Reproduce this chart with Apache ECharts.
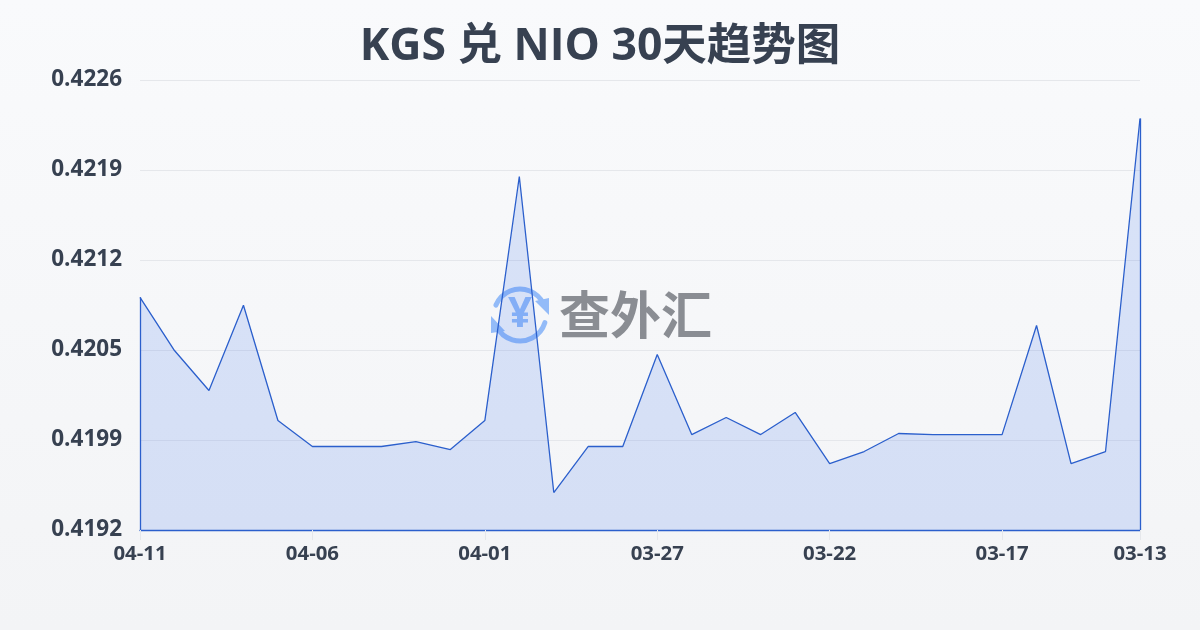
<!DOCTYPE html>
<html><head><meta charset="utf-8">
<style>html,body{margin:0;padding:0;background:#f9fafb}#c{width:1200px;height:630px}</style>
<script src="https://cdn.jsdelivr.net/npm/echarts@6/dist/echarts.min.js"></script>
</head><body><div id="c"></div>
<script>
const titleText = 'KGS 兑 NIO 30天趋势图';
const categories = ['04-11','04-10','04-09','04-08','04-07','04-06','04-05','04-04','04-03','04-02','04-01','03-31','03-30','03-29','03-28','03-27','03-26','03-25','03-24','03-23','03-22','03-21','03-20','03-19','03-18','03-17','03-16','03-15','03-14','03-13'];
const rates = [0.420958,0.420556,0.420254,0.420898,0.420027,0.419831,0.419831,0.419831,0.419868,0.419808,0.420027,0.421871,0.419483,0.419831,0.419831,0.420526,0.419921,0.42005,0.419921,0.420088,0.419702,0.419793,0.419929,0.419921,0.419921,0.419921,0.420745,0.419702,0.419793,0.422309];
const yTicks = [0.4192,0.41988,0.42056,0.42124,0.42192,0.4226];
const yTickLabels = ['0.4192','0.4199','0.4205','0.4212','0.4219','0.4226'];
const yMin = 0.4192, yMax = 0.4226;
const xLabelIdx = [0,5,10,15,20,25,29];
const font = '"Open Sans","Noto Sans CJK SC",sans-serif';
const line = '#2b5fcc', ink = '#374151', wm = '#93bbf8';
const chart = echarts.init(document.getElementById('c'));
const last = categories.length-1;
chart.setOption({
  animation:false,
  backgroundColor:new echarts.graphic.LinearGradient(0,0,0,1,[{offset:0,color:'#f9fafc'},{offset:1,color:'#f3f4f6'}]),
  title:{text:titleText,left:'center',top:20,textStyle:{fontFamily:font,fontSize:44.5,fontWeight:'bold',color:ink}},
  grid:{left:140,right:60,top:80,bottom:100},
  graphic:[
    {type:'arc',z:0,shape:{cx:520,cy:315,r:26,startAngle:-2.75,endAngle:-0.45},style:{stroke:wm,lineWidth:5,fill:null,lineCap:'round'}},
    {type:'arc',z:0,shape:{cx:520,cy:315,r:26,startAngle:0.3,endAngle:2.7},style:{stroke:wm,lineWidth:5,fill:null,lineCap:'round'}},
    {type:'polygon',z:0,shape:{points:[[535,301],[549,315],[549,298]]},style:{fill:wm}},
    {type:'polygon',z:0,shape:{points:[[491,316],[505,331],[491,333]]},style:{fill:wm}},
    {type:'text',z:0,style:{text:'¥',x:520,y:315,align:'center',verticalAlign:'middle',font:'bold 42px '+font,fill:wm}},
    {type:'text',z:0,style:{text:'查外汇',x:559,y:315,align:'left',verticalAlign:'middle',font:'bold 51px "Noto Sans CJK SC"',fill:'#8a8d93'}}
  ],
  xAxis:{type:'category',data:categories,boundaryGap:false,
    axisLine:{show:true,lineStyle:{color:line,width:1.3}},
    axisTick:{show:true,length:10,customValues:xLabelIdx,lineStyle:{color:'#e5e7eb'}},
    axisLabel:{customValues:xLabelIdx,hideOverlap:false,fontFamily:font,fontSize:20.4,fontWeight:'bold',color:ink,margin:14},
    splitLine:{show:false}},
  yAxis:{type:'value',min:yMin,max:yMax,
    axisLine:{show:false},axisTick:{show:false,customValues:yTicks},
    axisLabel:{customValues:yTicks,fontFamily:font,fontSize:22.5,fontWeight:'bold',color:ink,margin:18,
      formatter:(v)=>{let b=0,d=9;yTicks.forEach((t,i)=>{const e=Math.abs(t-v);if(e<d){d=e;b=i}});return yTickLabels[b]}},
    splitLine:{show:true,lineStyle:{color:'#e5e7eb',width:1}}},
  series:[{type:'line',data:rates,symbol:'none',smooth:false,z:3,
    lineStyle:{color:line,width:1.3},
    areaStyle:{color:'rgba(37,99,235,0.15)',opacity:1},
    markLine:{silent:true,symbol:'none',label:{show:false},lineStyle:{color:line,width:1.3,type:'solid'},
      data:[
        [{coord:[categories[0],rates[0]]},{coord:[categories[0],yMin]}],
        [{coord:[categories[last],rates[last]]},{coord:[categories[last],yMin]}]
      ]}
  }]
});
</script></body></html>
